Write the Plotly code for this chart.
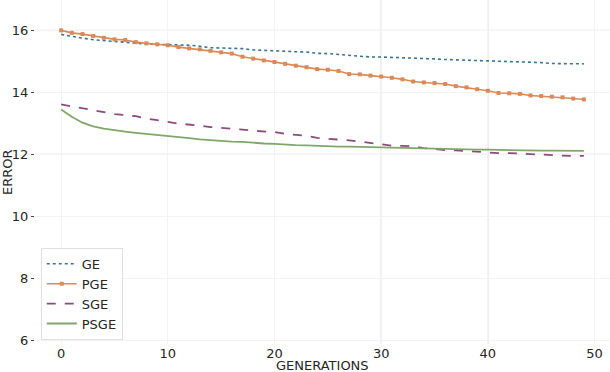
import plotly.graph_objects as go

generations = list(range(50))

ge = [15.87, 15.80, 15.75, 15.70, 15.67, 15.63, 15.60, 15.58, 15.56, 15.55,
      15.54, 15.54, 15.52, 15.49, 15.44, 15.43, 15.43, 15.41, 15.37, 15.35,
      15.34, 15.32, 15.31, 15.30, 15.26, 15.25, 15.22, 15.20, 15.15, 15.14,
      15.14, 15.13, 15.13, 15.12, 15.10, 15.08, 15.06, 15.05, 15.05, 15.04,
      15.03, 15.02, 15.00, 14.98, 14.97, 14.96, 14.93, 14.92, 14.92, 14.92]

pge = [16.00, 15.92, 15.88, 15.82, 15.76, 15.71, 15.69, 15.62, 15.58, 15.55,
       15.52, 15.46, 15.42, 15.39, 15.34, 15.29, 15.25, 15.15, 15.09, 15.03,
       14.98, 14.92, 14.86, 14.81, 14.75, 14.73, 14.69, 14.59, 14.58, 14.54,
       14.51, 14.47, 14.42, 14.35, 14.32, 14.30, 14.27, 14.20, 14.16, 14.10,
       14.05, 13.98, 13.97, 13.95, 13.90, 13.88, 13.86, 13.84, 13.80, 13.77]

sge = [13.61, 13.55, 13.48, 13.42, 13.35, 13.30, 13.27, 13.23, 13.15, 13.11,
       13.05, 12.99, 12.97, 12.93, 12.88, 12.86, 12.84, 12.80, 12.76, 12.74,
       12.72, 12.66, 12.62, 12.60, 12.53, 12.51, 12.47, 12.45, 12.41, 12.36,
       12.32, 12.28, 12.27, 12.26, 12.20, 12.16, 12.14, 12.13, 12.11, 12.07,
       12.05, 12.04, 12.04, 12.02, 12.00, 11.99, 11.97, 11.96, 11.95, 11.95]

psge = [13.45, 13.21, 13.02, 12.90, 12.83, 12.77, 12.73, 12.69, 12.66, 12.62,
        12.59, 12.56, 12.52, 12.48, 12.45, 12.43, 12.41, 12.40, 12.37, 12.35,
        12.34, 12.31, 12.30, 12.29, 12.27, 12.26, 12.25, 12.25, 12.24, 12.24,
        12.23, 12.23, 12.22, 12.21, 12.20, 12.18, 12.17, 12.16, 12.16, 12.15,
        12.15, 12.14, 12.14, 12.13, 12.13, 12.12, 12.12, 12.11, 12.11, 12.11]

x_ticks = [0, 10, 20, 30, 40, 50]
y_ticks = [6, 8, 10, 12, 14, 16]

FONT = "DejaVu Sans"

fig = go.Figure()
fig.add_trace(go.Scatter(x=generations, y=ge, name="GE", mode="lines",
                         line=dict(color="#3a7396", width=1.6, dash="dot")))
fig.add_trace(go.Scatter(x=generations, y=pge, name="PGE", mode="lines+markers",
                         line=dict(color="#db8a57", width=1.6),
                         marker=dict(symbol="square", size=4, color="#db8a57")))
fig.add_trace(go.Scatter(x=generations, y=sge, name="SGE", mode="lines",
                         line=dict(color="#8e4a7c", width=1.8, dash="dash")))
fig.add_trace(go.Scatter(x=generations, y=psge, name="PSGE", mode="lines",
                         line=dict(color="#80a76a", width=1.8)))

# darker grid lines as rendered in the reference
for yv in [12, 16]:
    fig.add_hline(y=yv, line=dict(color="#cfcfcf", width=1), layer="below")
for xv in [30, 40]:
    fig.add_vline(x=xv, line=dict(color="#cfcfcf", width=1), layer="below")

fig.add_annotation(text="GENERATIONS", xref="paper", yref="paper",
                   x=0.5, y=-0.062, xanchor="center", yanchor="middle",
                   showarrow=False, font=dict(size=13, color="#262626"))
fig.add_annotation(text="ERROR", xref="paper", yref="paper",
                   x=-0.0487, y=0.5, xanchor="center", yanchor="middle",
                   textangle=-90, showarrow=False,
                   font=dict(size=13, color="#262626"))

fig.update_layout(
    width=610, height=372,
    margin=dict(l=35, r=0, t=0, b=28, autoexpand=False),
    paper_bgcolor="white", plot_bgcolor="white",
    font=dict(family=FONT, size=13, color="#262626"),
    showlegend=True,
    legend=dict(x=0.01, y=0.012, xanchor="left", yanchor="bottom",
                bgcolor="rgba(255,255,255,0.8)", bordercolor="#e0e0e0",
                borderwidth=1, font=dict(size=13), tracegroupgap=0),
    xaxis=dict(range=[-2.45, 51.45], tickvals=x_ticks, showgrid=True,
               gridcolor="#f3f3f3", gridwidth=1, zeroline=False,
               showline=False, ticks="", automargin=False),
    yaxis=dict(range=[5.88, 16.98], tickvals=y_ticks, showgrid=True,
               gridcolor="#f3f3f3", gridwidth=1, zeroline=False,
               showline=False, ticks="outside", ticklen=3, tickcolor="#444",
               automargin=False),
)

fig.write_html("out.html",
               config={"displayModeBar": False},
               post_script="document.body.style.margin='0';"
                           "document.body.style.overflow='hidden';")
